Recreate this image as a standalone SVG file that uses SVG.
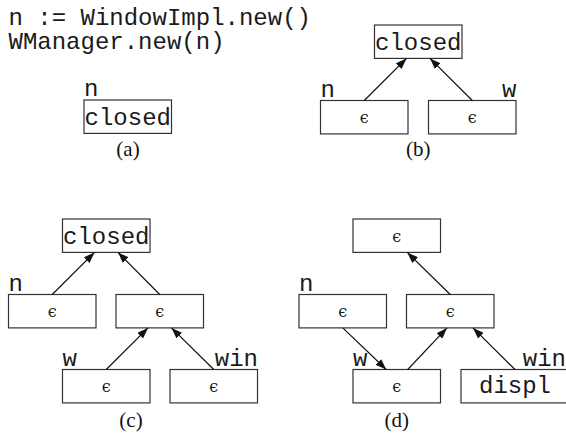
<svg xmlns="http://www.w3.org/2000/svg" width="566" height="444" viewBox="0 0 566 444">
  <style>
    .box { fill: #fff; stroke: #333; stroke-width: 1.2; }
    .mono { font-family: "Liberation Mono", "Courier New", monospace; font-size: 24px; fill: #1a1a1a; }
    .eps { font-family: "DejaVu Serif", "Liberation Serif", serif; font-size: 16px; fill: #1a1a1a; text-anchor: middle; }
    .cap { font-family: "Liberation Serif", "Times New Roman", serif; font-size: 21px; fill: #111; text-anchor: middle; }
    .mid { text-anchor: middle; }
    .end { text-anchor: end; }
    .edge { stroke: #111; stroke-width: 1.2; fill: none; marker-end: url(#head); }
  </style>
  <defs>
    <marker id="head" markerUnits="userSpaceOnUse" markerWidth="12" markerHeight="8" refX="11" refY="4" orient="auto">
      <path d="M0,0 L11,4 L0,8 Z" fill="#111"/>
    </marker>
  </defs>
  <rect width="566" height="444" fill="#fff"/>

  <!-- program text -->
  <g id="code">
    <text class="mono" x="8.5" y="24.5">n := WindowImpl.new()</text>
    <text class="mono" x="8.5" y="49">WManager.new(n)</text>
  </g>

  <!-- (a) -->
  <g id="a-closed">
    <rect class="box" x="84" y="100" width="87.5" height="33.4"/>
    <text class="mono mid" x="127.75" y="125">closed</text>
    <text class="mono" x="84" y="96">n</text>
  </g>
  <text class="cap" x="128" y="156">(a)</text>

  <!-- (b) -->
  <g id="b-closed">
    <rect class="box" x="374.5" y="25" width="87.5" height="33.4"/>
    <text class="mono mid" x="418.25" y="50">closed</text>
  </g>
  <g id="b-n">
    <rect class="box" x="320.5" y="100.5" width="87.5" height="33.4"/>
    <text class="eps" x="364.25" y="123">ϵ</text>
    <text class="mono" x="320.5" y="96.5">n</text>
  </g>
  <g id="b-w">
    <rect class="box" x="428.5" y="100.5" width="87.5" height="33.4"/>
    <text class="eps" x="472.25" y="123">ϵ</text>
    <text class="mono end" x="516.5" y="96.5">w</text>
  </g>
  <text class="cap" x="418.25" y="156">(b)</text>

  <!-- (c) -->
  <g id="c-closed">
    <rect class="box" x="62.5" y="219" width="87.5" height="33.4"/>
    <text class="mono mid" x="106.25" y="244">closed</text>
  </g>
  <g id="c-n">
    <rect class="box" x="8.5" y="294.5" width="87.5" height="33.4"/>
    <text class="eps" x="52.25" y="317">ϵ</text>
    <text class="mono" x="8.5" y="290.5">n</text>
  </g>
  <g id="c-mid">
    <rect class="box" x="116" y="294.5" width="87.5" height="33.4"/>
    <text class="eps" x="159.75" y="317">ϵ</text>
  </g>
  <g id="c-w">
    <rect class="box" x="62.5" y="369.5" width="87.5" height="33.4"/>
    <text class="eps" x="106.25" y="392">ϵ</text>
    <text class="mono" x="62.5" y="365.5">w</text>
  </g>
  <g id="c-win">
    <rect class="box" x="170" y="369.5" width="87.5" height="33.4"/>
    <text class="eps" x="213.75" y="392">ϵ</text>
    <text class="mono end" x="258" y="365.5">win</text>
  </g>
  <text class="cap" x="131" y="427">(c)</text>

  <!-- (d) -->
  <g id="d-top">
    <rect class="box" x="353" y="219" width="87.5" height="33.4"/>
    <text class="eps" x="396.75" y="241.5">ϵ</text>
  </g>
  <g id="d-n">
    <rect class="box" x="299" y="294.5" width="87.5" height="33.4"/>
    <text class="eps" x="342.75" y="317">ϵ</text>
    <text class="mono" x="299" y="290.5">n</text>
  </g>
  <g id="d-mid">
    <rect class="box" x="406.5" y="294.5" width="87.5" height="33.4"/>
    <text class="eps" x="450.25" y="317">ϵ</text>
  </g>
  <g id="d-w">
    <rect class="box" x="353" y="369.5" width="87.5" height="33.4"/>
    <text class="eps" x="396.75" y="392">ϵ</text>
    <text class="mono" x="353" y="365.5">w</text>
  </g>
  <g id="d-win">
    <rect class="box" x="461" y="369.5" width="108" height="33.4"/>
    <text class="mono mid" x="515" y="392.5">displ</text>
    <text class="mono end" x="566" y="365.5">win</text>
  </g>
  <text class="cap" x="396.75" y="427">(d)</text>

  <!-- connectors -->
  <g id="edges">
    <line class="edge" x1="364.25" y1="100.5" x2="406.5" y2="58.4"/>
    <line class="edge" x1="472.25" y1="100.5" x2="430" y2="58.4"/>

    <line class="edge" x1="52.25" y1="294.5" x2="94.5" y2="252.4"/>
    <line class="edge" x1="159.75" y1="294.5" x2="118" y2="252.4"/>
    <line class="edge" x1="106.25" y1="369.5" x2="148" y2="327.9"/>
    <line class="edge" x1="213.75" y1="369.5" x2="171.5" y2="327.9"/>

    <line class="edge" x1="450.25" y1="294.5" x2="407.25" y2="252.4"/>
    <line class="edge" x1="342.75" y1="327.9" x2="386.25" y2="369.5"/>
    <line class="edge" x1="407.75" y1="369.5" x2="447" y2="327.9"/>
    <line class="edge" x1="515" y1="369.5" x2="473" y2="327.9"/>
  </g>
</svg>
